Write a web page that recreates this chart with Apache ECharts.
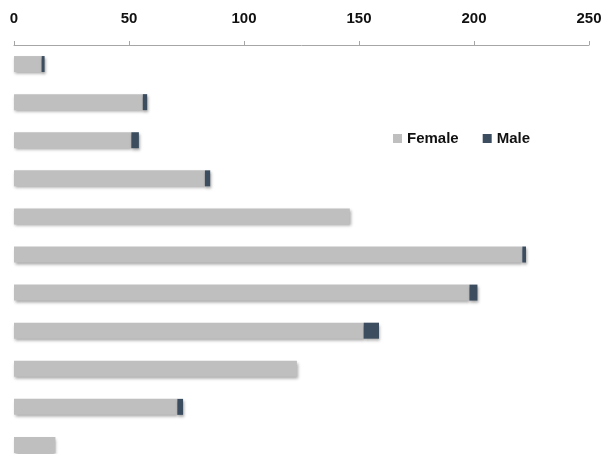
<!DOCTYPE html>
<html>
<head>
<meta charset="utf-8">
<script src="https://cdn.jsdelivr.net/npm/echarts@6/dist/echarts.min.js"></script>
<style>
  html, body { margin: 0; padding: 0; background: #fff; }
  #chart { width: 615px; height: 454px; }
</style>
</head>
<body>
<div id="chart"></div>
<script>
// one row per bar, top to bottom
const categories = ['1', '2', '3', '4', '5', '6', '7', '8', '9', '10', '11']
const femaleValues = [12, 56, 51, 83, 146, 221, 198, 152, 123, 71, 18]
const maleValues = [1.3, 1.9, 3.3, 2.3, 0, 1.6, 3.5, 6.7, 0, 2.5, 0]
const xTicks = [0, 50, 100, 150, 200, 250]

const fontFamily = '"Liberation Sans", Arial, sans-serif'
const barShadow = {
  shadowColor: 'rgba(0, 0, 0, 0.35)',
  shadowBlur: 3,
  shadowOffsetX: 1,
  shadowOffsetY: 2
}

const chart = echarts.init(document.getElementById('chart'), null, { renderer: 'canvas' })

chart.setOption({
  animation: false,
  backgroundColor: '#ffffff',
  grid: {
    left: 14,
    right: 26,
    top: 45,
    height: 419,
    containLabel: false,
    outerBoundsMode: 'none'
  },
  legend: {
    left: 388,
    top: 126,
    itemWidth: 9,
    itemHeight: 9,
    itemGap: 24,
    icon: 'rect',
    textStyle: { fontFamily, fontWeight: 'bold', fontSize: 15, color: '#111' },
    data: ['Female', 'Male']
  },
  xAxis: {
    type: 'value',
    position: 'top',
    min: xTicks[0],
    max: xTicks[xTicks.length - 1],
    interval: 50,
    splitLine: { show: false },
    axisLine: { show: true, lineStyle: { color: '#a6a6a6', width: 1 } },
    axisTick: { show: true, inside: false, length: 4, lineStyle: { color: '#a6a6a6' } },
    axisLabel: {
      margin: 19,
      fontFamily,
      fontWeight: 'bold',
      fontSize: 15,
      color: '#111'
    }
  },
  yAxis: {
    type: 'category',
    inverse: true,
    data: categories,
    axisLine: { show: false },
    axisTick: { show: false },
    axisLabel: { show: false }
  },
  series: [
    {
      name: 'Female',
      type: 'bar',
      stack: 'total',
      barWidth: 16,
      color: '#bfbfbf',
      itemStyle: { color: '#bfbfbf', ...barShadow },
      data: femaleValues
    },
    {
      name: 'Male',
      type: 'bar',
      stack: 'total',
      barWidth: 16,
      color: '#3b4d5f',
      itemStyle: { color: '#3b4d5f', ...barShadow },
      data: maleValues
    }
  ]
})
</script>
</body>
</html>
